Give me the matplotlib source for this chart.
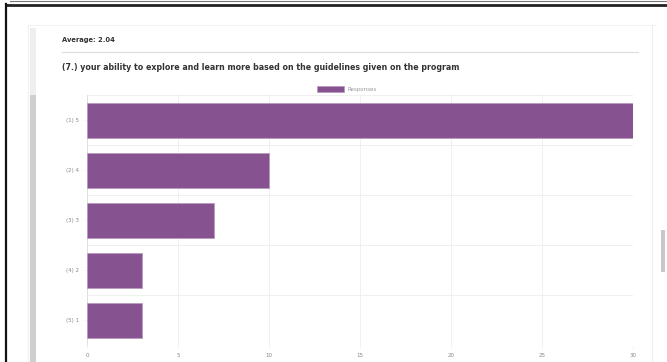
import matplotlib.pyplot as plt
from matplotlib.lines import Line2D
from matplotlib.patches import Rectangle

# survey responses for question 7
labels = ["(1) 5", "(2) 4", "(3) 3", "(4) 2", "(5) 1"]
counts = [30, 10, 7, 3, 3]
xticks = [0, 5, 10, 15, 20, 25, 30]
average_text = "Average: 2.04"
question = "(7.) your ability to explore and learn more based on the guidelines given on the program"
legend_label = "Responses"

W, H = 667, 362
bar_color = "#86528f"

fig = plt.figure(figsize=(W / 100, H / 100), dpi=100)
fig.patch.set_facecolor("white")


def px(x0, y0):
    # pixel coords (top-left origin) -> figure fraction
    return x0 / W, 1 - y0 / H


def hline(y, x0, x1, color, lw):
    a, b = px(x0, y)
    c, _ = px(x1, y)
    fig.add_artist(Line2D([a, c], [b, b], color=color, lw=lw, transform=fig.transFigure))


def vline(x, y0, y1, color, lw):
    a, b = px(x, y0)
    _, d = px(x, y1)
    fig.add_artist(Line2D([a, a], [b, d], color=color, lw=lw, transform=fig.transFigure))


def box(x0, y0, w, h, color):
    a, b = px(x0, y0 + h)
    fig.add_artist(Rectangle((a, b), w / W, h / H, color=color, transform=fig.transFigure, lw=0))


# window frame
hline(1, 10, W, "#777777", 0.8)
hline(4.5, 6, W, "#222222", 2.0)
vline(6, 4, H, "#111111", 1.6)

# page scrollbars and card edges
box(30, 95, 6, H - 95, "#cfcfcf")
box(30, 28, 6, 67, "#eeeeee")
vline(28, 25, H, "#f0f0f0", 0.8)
hline(25, 28, 655, "#f2f2f2", 0.8)
vline(652, 25, H, "#eeeeee", 0.8)
box(661, 230, 4, 42, "#c8c8c8")

# header
fig.text(*px(62, 40), average_text, fontsize=4.85, fontweight="bold", color="#333333", va="center")
hline(52, 62, 638, "#dddddd", 0.8)
fig.text(*px(62, 68), question, fontsize=5.67, fontweight="bold", color="#333333", va="center")

# chart
ax = fig.add_axes([87 / W, 17 / H, 546 / W, 250 / H])
ypos = list(range(len(labels)))
ax.barh(ypos, counts, height=0.7, color=bar_color, edgecolor="#b89abd", linewidth=0.6,
        label=legend_label, zorder=3)
ax.set_xlim(0, 30)
ax.set_ylim(len(labels) - 0.5, -0.5)
ax.set_yticks(ypos)
ax.set_yticklabels(labels)
ax.set_xticks(xticks)
ax.tick_params(labelsize=4, colors="#888888", length=3, width=0.4, pad=3)
ax.tick_params(axis="both", color="#eeeeee")

# grid: vertical at ticks, horizontal between categories
for x in xticks:
    ax.axvline(x, color="#eeeeee", lw=0.6, zorder=1)
for y in range(len(labels) + 1):
    ax.axhline(y - 0.5, color="#eeeeee", lw=0.6, zorder=1)
for s in ax.spines.values():
    s.set_visible(False)
ax.spines["left"].set_visible(True)
ax.spines["left"].set_color("#dddddd")
ax.spines["left"].set_linewidth(0.6)

leg = ax.legend(loc="lower center", bbox_to_anchor=(0.476, 1.0), frameon=False, fontsize=4,
                handlelength=4.9, handleheight=1.25, handletextpad=0.5, borderaxespad=0.1)
for t in leg.get_texts():
    t.set_color("#999999")

fig.savefig("out.png", dpi=100)
